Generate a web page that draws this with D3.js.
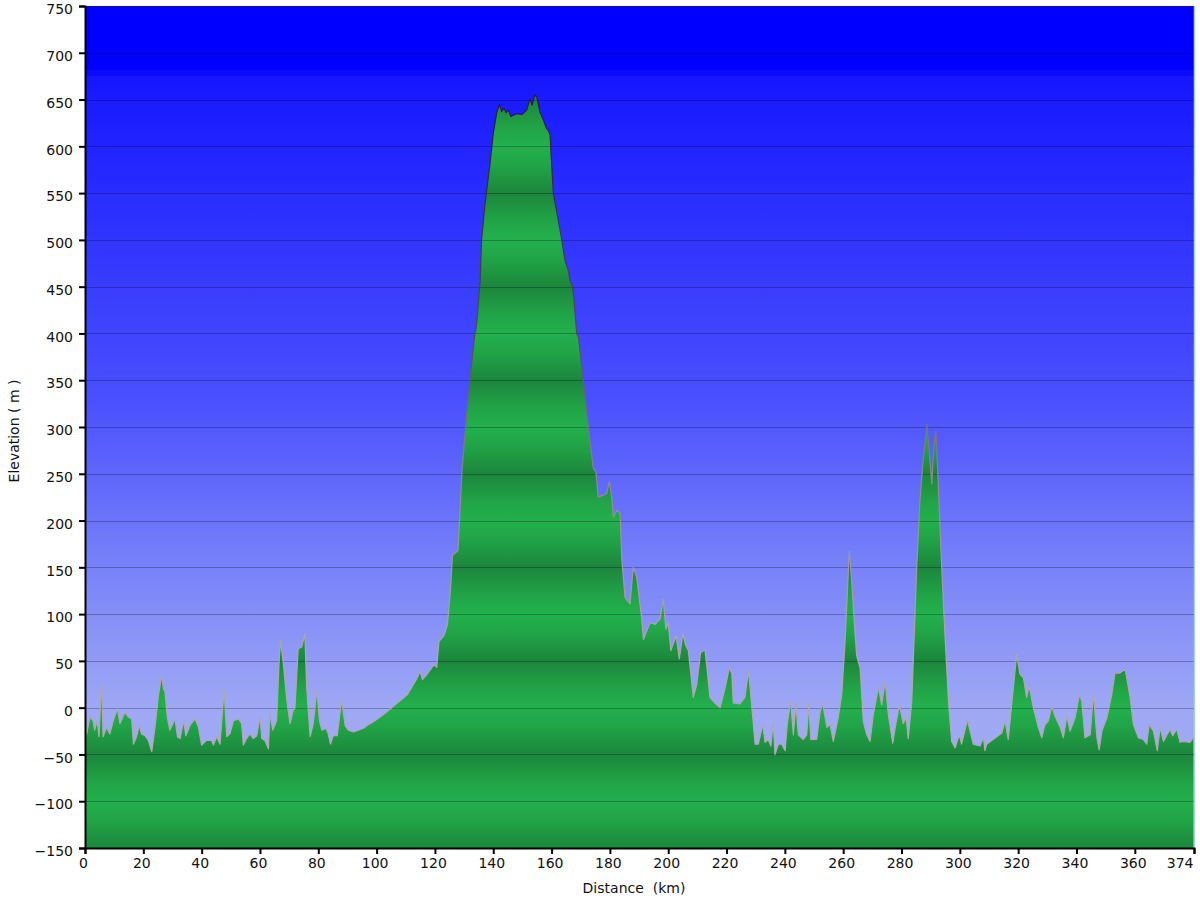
<!DOCTYPE html>
<html><head><meta charset="utf-8">
<script src="https://cdn.jsdelivr.net/npm/d3@7"></script>
<style>html,body{margin:0;padding:0;background:#fff;} svg{display:block;} text{font-family:"DejaVu Sans",Verdana,sans-serif;}</style>
</head><body><svg id="chart" width="1200" height="900"></svg>
<script>
const distanceKm = [
 0.0,0.3,0.6,1.7,2.8,3.3,4.2,4.8,5.7,6.2,
 7.4,8.5,9.7,11.1,12.0,13.7,14.9,16.0,16.6,17.7,
 18.6,19.4,20.6,21.7,22.9,24.0,25.1,26.3,26.9,27.4,
 28.2,29.1,30.9,31.7,32.6,33.8,34.6,36.0,37.7,38.9,
 40.0,41.7,43.4,44.0,45.2,46.3,47.7,48.6,49.7,50.9,
 52.6,53.7,54.3,55.4,56.6,57.7,58.9,60.0,60.6,61.7,
 62.9,63.4,64.4,65.7,66.6,67.1,68.0,69.2,70.3,71.4,
 72.0,73.1,74.3,75.4,76.0,77.2,78.3,79.5,80.4,81.2,
 82.7,83.4,84.2,85.1,86.5,88.0,89.2,90.3,92.1,95.5,
 96.7,98.9,101.2,
 103.7,107.1,110.6,114.0,114.9,115.7,117.4,119.7,120.6,121.4,123.1,124.3,125.4,126.0,127.9,129.3,130.7,132.0,133.5,134.3,135.5,136.0,137.2,138.9,140.0,141.2,142.1,142.9,143.7,144.4,145.2,146.0,148.0,149.8,151.5,152.6,153.3,154.3,154.9,156.0,157.2,158.3,158.9,159.5,160.0,160.6,162.3,163.5,164.6,165.7,166.3,167.2,167.7,168.6,169.2,170.9,172.6,174.3,175.2,176.0,177.7,178.9,179.8,180.6,181.2,182.3,183.5,184.1,185.2,186.9,188.0,189.2,190.9,191.5,193.8,195.5,197.2,198.3,199.2,200.0,200.9,202.7,203.8,205.0,206.1,206.9,208.6,209.8,211.1,212.6,213.4,214.3,216.0,217.8,219.5,221.0,221.8,222.3,224.6,226.3,227.5,228.1,229.2,229.8,230.9,232.4,233.2,234.3,235.2,236.0,236.6,237.8,238.9,240.1,240.8,242.0,242.9,243.8,244.6,246.3,247.5,248.2,248.9,250.9,252.1,253.0,254.4,255.5,256.6,258.3,259.5,260.6,261.4,262.1,262.9,263.5,264.6,265.8,266.9,268.1,269.2,270.3,272.1,273.2,274.4,275.5,277.0,277.8,279.3,280.6,281.6,282.3,283.5,284.1,285.2,286.3,287.5,288.7,289.5,290.4,291.2,291.8,292.6,293.8,294.9,296.1,297.2,298.4,299.8,300.6,302.6,304.6,306.9,308.1,308.6,309.2,314.4,315.5,316.6,317.8,319.5,320.6,321.8,322.9,323.8,325.2,326.9,328.1,329.2,330.4,331.5,332.6,334.4,335.5,336.7,337.8,339.5,341.0,341.8,342.9,344.7,345.8,347.0,347.8,348.7,350.4,352.1,353.2,354.9,356.7,358.4,359.5,361.2,362.9,364.1,364.9,366.4,367.7,368.7,369.8,372.1,373.0,374.4,375.5,376.6,378.9,380.1];
const elevationM = [
 -72,-22,-28,-10,-14,-24,-14,-31,29,-31,
 -21,-28,-14,-1,-17,-5,-10,-12,-39,-31,
 -19,-28,-30,-35,-47,-21,11,35,20,17,
 -10,-24,-12,-31,-33,-14,-30,-19,-12,-21,
 -40,-35,-35,-40,-31,-39,19,-31,-28,-14,
 -12,-17,-40,-33,-28,-33,-30,-10,-33,-35,
 -44,-6,-24,-14,51,72,47,8,-17,-3,
 0,63,65,79,22,-31,-17,19,-14,-24,
 -22,-28,-39,-30,-30,8,-19,-24,-26,-22,
 -19,-15,-10,
 -4,5,14,32,39,30,36,46,43,71,77,89,129,163,168,254,307,350,395,410,455,500,539,582,614,636,645,637,641,636,639,632,635,634,639,651,644,655,653,637,628,619,617,612,582,550,521,500,478,468,457,450,436,400,396,350,300,256,252,225,227,229,242,225,204,211,208,157,118,111,150,139,96,73,91,89,95,116,84,91,61,77,52,79,66,61,11,25,59,62,39,11,5,0,21,43,36,5,4,11,39,21,-18,-39,-39,-18,-37,-34,-41,-16,-50,-39,-39,-46,-18,7,-29,4,-29,-34,-29,4,-34,-34,-4,4,-21,-18,-36,-11,14,68,121,167,136,106,56,42,-15,-29,-36,-8,22,3,28,-8,-38,-22,3,-17,-11,-33,6,56,149,221,267,303,274,239,285,296,239,149,78,6,-36,-43,-29,-39,-13,-39,-41,-32,-46,-39,-27,-14,-34,4,57,36,32,11,23,0,-21,-32,-18,-14,2,-9,-21,-32,-9,-25,-11,14,7,-32,-29,16,-32,-45,-25,-11,14,37,37,41,11,-18,-32,-34,-39,-18,-25,-46,-21,-36,-23,-30,-23,-37,-36,-37,-32];
const xTickValues = [0,20,40,60,80,100,120,140,160,180,200,220,240,260,280,300,320,340,360];
const xEndLabel = "374";
const yTickValues = [-150,-100,-50,0,50,100,150,200,250,300,350,400,450,500,550,600,650,700,750];
const xAxisTitle = "Distance  (km)";
const yAxisTitle = "Elevation ( m )";

const svg = d3.select("#chart");
const L = 85, R = 1194, T = 6, B = 848;
const xMax = 380.3;
const x = d3.scaleLinear().domain([0, xMax]).range([L, R]);
const y = d3.scaleLinear().domain([-150, 750]).range([B, T]);
const n = Math.min(distanceKm.length, elevationM.length);
const data = distanceKm.slice(0, n).map((d, i) => ({d, e: elevationM[i]}));

const defs = svg.append("defs");
const off = v => (v - T) / (B - T);
const bg = defs.append("linearGradient").attr("id", "bg").attr("gradientUnits", "userSpaceOnUse")
  .attr("x1", 0).attr("x2", 0).attr("y1", T).attr("y2", B);
[[0, "#0000ff"], [off(70), "#0000ff"], [off(70.2), "#0a0aff"], [off(76), "#0a0aff"], [off(76.2), "#1616ff"],
 [off(200), "#2a2eff"], [off(400), "#4a50fd"], [off(560), "#7680f8"],
 [off(707), "#9ea8f4"], [1, "#a6b0f2"]].forEach(s => bg.append("stop").attr("offset", s[0]).attr("stop-color", s[1]));

const gr = defs.append("linearGradient").attr("id", "green").attr("gradientUnits", "userSpaceOnUse")
  .attr("spreadMethod", "repeat").attr("x1", 0).attr("x2", 0).attr("y1", y(-50)).attr("y2", y(-150));
[[0, "#1c863c"], [0.3, "#21a447"], [0.5, "#23b04c"], [0.7, "#21a447"], [1, "#1c863c"]]
  .forEach(s => gr.append("stop").attr("offset", s[0]).attr("stop-color", s[1]));

const ol = defs.append("linearGradient").attr("id", "outline").attr("gradientUnits", "userSpaceOnUse")
  .attr("x1", 0).attr("x2", 0).attr("y1", T).attr("y2", B);
[[0, "#1a1a1a"], [0.15, "#262626"], [0.4, "#505050"], [0.56, "#8a8a8a"], [0.75, "#a8a8a8"], [1, "#b0b0b0"]]
  .forEach(s => ol.append("stop").attr("offset", s[0]).attr("stop-color", s[1]));

defs.append("clipPath").attr("id", "clip").append("rect")
  .attr("x", L).attr("y", T).attr("width", R - L).attr("height", B - T);

svg.append("rect").attr("x", L).attr("y", T).attr("width", R - L).attr("height", B - T).attr("fill", "url(#bg)");

const g = svg.append("g").attr("clip-path", "url(#clip)");
const area = d3.area().x(d => x(d.d)).y0(y(-150)).y1(d => y(d.e));
const line = d3.line().x(d => x(d.d)).y(d => y(d.e));
g.append("path").datum(data).attr("d", area).attr("fill", "url(#green)");

g.selectAll("line.grid").data(yTickValues.filter(v => v > -150 && v < 750)).join("line")
  .attr("class", "grid").attr("x1", L).attr("x2", R).attr("y1", d => Math.round(y(d)) + 0.5).attr("y2", d => Math.round(y(d)) + 0.5)
  .attr("stroke", "rgba(0,0,30,0.28)").attr("stroke-width", 1);

g.append("path").datum(data).attr("d", line).attr("fill", "none")
  .attr("stroke", "url(#outline)").attr("stroke-width", 1.2).attr("stroke-linejoin", "round");

svg.append("line").attr("x1", R + 0.5).attr("x2", R + 0.5).attr("y1", T).attr("y2", B)
  .attr("stroke", "#a4d6cf").attr("stroke-width", 1.5);

const yAxis = d3.axisLeft(y).tickValues(yTickValues).tickSize(6).tickPadding(6).tickFormat(d3.format("d"));
const ya = svg.append("g").attr("transform", `translate(${L},0)`).call(yAxis);
ya.select(".domain").attr("stroke", "#000").attr("stroke-width", 2);
ya.selectAll(".tick line").attr("stroke", "#000").attr("stroke-width", 2);
ya.selectAll(".tick text").attr("font-size", 14).attr("fill", "#111").attr("dy", "0.55em")
  .style("font-family", "'DejaVu Sans', Verdana, sans-serif");

const xAxis = d3.axisBottom(x).tickValues(xTickValues.concat([xMax])).tickSize(6).tickPadding(4)
  .tickFormat(d => d === xMax ? xEndLabel : d3.format("d")(d));
const xa = svg.append("g").attr("transform", `translate(0,${B})`).call(xAxis);
xa.select(".domain").attr("stroke", "#000").attr("stroke-width", 2);
xa.selectAll(".tick line").attr("stroke", "#000").attr("stroke-width", 2);
xa.selectAll(".tick text").attr("font-size", 14).attr("fill", "#111").attr("dx", "-2")
  .style("font-family", "'DejaVu Sans', Verdana, sans-serif");
xa.selectAll(".tick text").filter(d => d === xMax).attr("text-anchor", "end").attr("dx", "-1");

svg.append("text").attr("x", 634).attr("y", 893).attr("text-anchor", "middle")
  .attr("font-size", 14).attr("fill", "#111").style("white-space", "pre").text(xAxisTitle);
svg.append("text").attr("transform", "translate(19,431) rotate(-90)").attr("text-anchor", "middle")
  .attr("font-size", 14).attr("fill", "#111").style("white-space", "pre").text(yAxisTitle);
</script></body></html>
